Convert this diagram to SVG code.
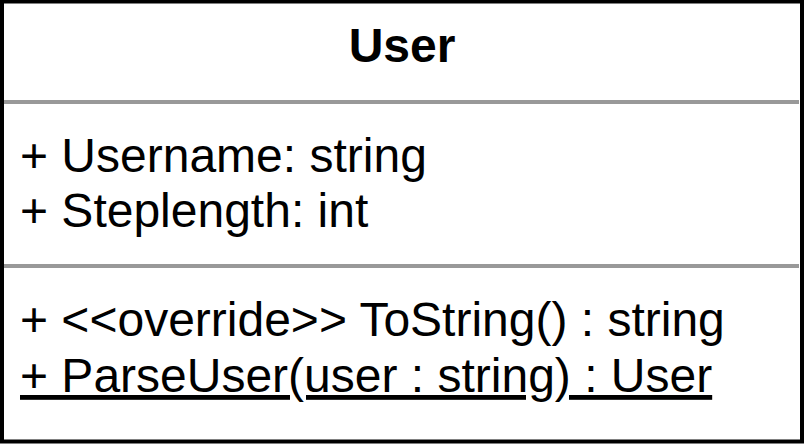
<svg xmlns="http://www.w3.org/2000/svg" width="804" height="448" viewBox="0 0 804 448">
<style>
.t{font-family:"Liberation Sans",Arial,sans-serif;font-size:48px;fill:#000}
.b{font-weight:bold}
.sep{stroke:#999999;stroke-width:4}
</style>
<rect width="804" height="448" fill="#ffffff"/>
<g id="class-User">
<rect x="2" y="1.5" width="800" height="440" fill="#ffffff" stroke="#000000" stroke-width="4"/>
<text class="t b" x="402" y="62" text-anchor="middle">User</text>
<line class="sep" x1="4" y1="102" x2="799" y2="102"/>
<text class="t" x="20" y="172">+ Username: string</text>
<text class="t" x="20" y="227">+ Steplength: int</text>
<line class="sep" x1="4" y1="266" x2="799" y2="266"/>
<text class="t" x="20" y="336">+ &lt;&lt;override&gt;&gt; ToString() : string</text>
<text class="t" x="20" y="392" text-decoration="underline">+ ParseUser(user : string) : User</text>
</g>
<g id="connectors"/>
</svg>
